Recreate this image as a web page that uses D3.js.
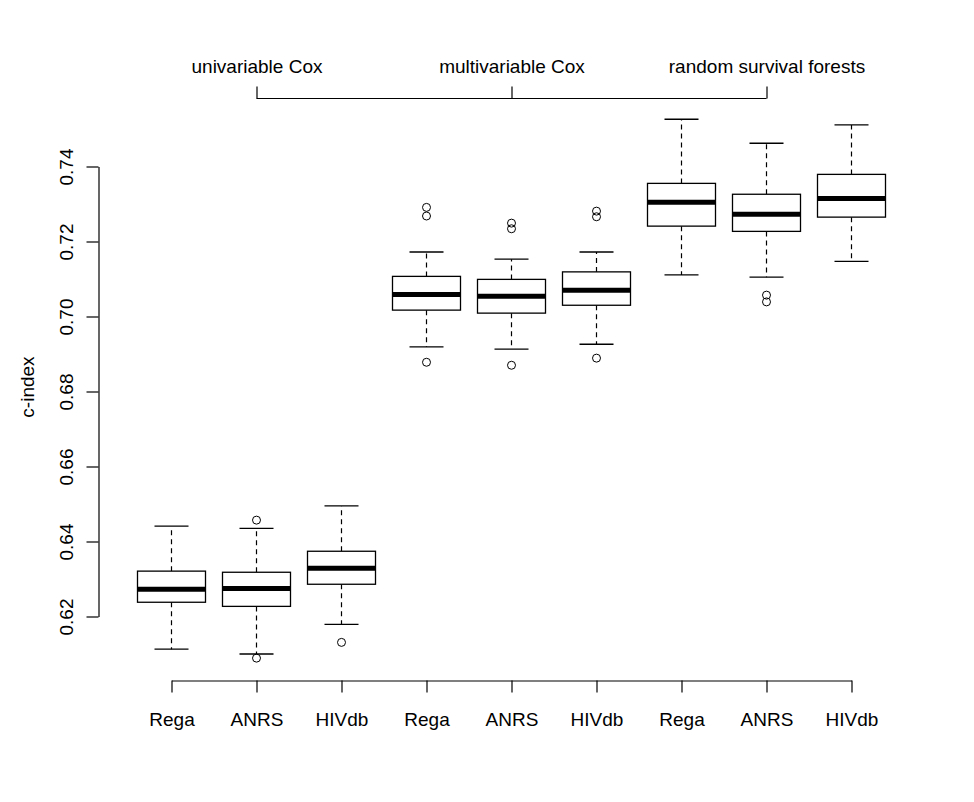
<!DOCTYPE html>
<html>
<head>
<meta charset="utf-8">
<script src="https://cdn.jsdelivr.net/npm/d3@7"></script>
<style>
body { margin: 0; background: #fff; }
text { font-family: "Liberation Sans", Arial, sans-serif; }
</style>
</head>
<body>
<div id="chart"></div>
<script>
// box statistics
var groups = ["Rega","ANRS","HIVdb","Rega","ANRS","HIVdb","Rega","ANRS","HIVdb"];
var methods = ["univariable Cox","multivariable Cox","random survival forests"];
var yTicks = [0.62, 0.64, 0.66, 0.68, 0.70, 0.72, 0.74];

var whiskerLow  = [0.6113, 0.6100, 0.6179, 0.6919, 0.6913, 0.6926, 0.7111, 0.7105, 0.7147];
var q1          = [0.6238, 0.6227, 0.6286, 0.7017, 0.7009, 0.7030, 0.7241, 0.7227, 0.7265];
var median      = [0.6273, 0.6275, 0.6329, 0.7059, 0.7054, 0.7070, 0.7305, 0.7273, 0.7315];
var q3          = [0.6321, 0.6318, 0.6374, 0.7107, 0.7099, 0.7119, 0.7355, 0.7326, 0.7379];
var whiskerHigh = [0.6441, 0.6435, 0.6495, 0.7172, 0.7153, 0.7172, 0.7526, 0.7462, 0.7511];
var outliers = [
	[],
	[0.6457, 0.6089],
	[0.6131],
	[0.7291, 0.7268, 0.6878],
	[0.7249, 0.7234, 0.6870],
	[0.7281, 0.7266, 0.6889],
	[],
	[0.7057, 0.7039],
	[]
];

var width = 974, height = 802;
var fontSize = "19px";

var svg = d3.select("#chart").append("svg")
	.attr("width", width)
	.attr("height", height)
	.style("background", "#fff");

var x = d3.scaleLinear().domain([1, 9]).range([171.5, 851.5]);
var y = d3.scaleLinear().domain([0.62, 0.74]).range([616.5, 166.5]);
var boxW = 68, capW = 34;

var boxes = groups.map((g, i) => ({
	i: i + 1, name: g,
	lo: whiskerLow[i], q1: q1[i], med: median[i], q3: q3[i], hi: whiskerHigh[i],
	out: outliers[i]
}));

var plot = svg.append("g");
var box = plot.selectAll("g.box")
	.data(boxes)
	.enter()
	.append("g")
		.attr("class", "box")
		.attr("transform", d => "translate(" + x(d.i) + ",0)");

// dashed whiskers
box.append("line")
	.attr("y1", d => y(d.q3)).attr("y2", d => y(d.hi))
	.attr("stroke", "#000").attr("stroke-width", 1.2).attr("stroke-dasharray", "5,4");
box.append("line")
	.attr("y1", d => y(d.q1)).attr("y2", d => y(d.lo))
	.attr("stroke", "#000").attr("stroke-width", 1.2).attr("stroke-dasharray", "5,4");
// staples
box.append("line")
	.attr("x1", -capW / 2).attr("x2", capW / 2)
	.attr("y1", d => y(d.hi)).attr("y2", d => y(d.hi))
	.attr("stroke", "#000").attr("stroke-width", 1.3);
box.append("line")
	.attr("x1", -capW / 2).attr("x2", capW / 2)
	.attr("y1", d => y(d.lo)).attr("y2", d => y(d.lo))
	.attr("stroke", "#000").attr("stroke-width", 1.3);
// box
box.append("rect")
	.attr("x", -boxW / 2).attr("width", boxW)
	.attr("y", d => y(d.q3))
	.attr("height", d => y(d.q1) - y(d.q3))
	.attr("fill", "#fff").attr("stroke", "#000").attr("stroke-width", 1.3);
// median
box.append("line")
	.attr("x1", -boxW / 2).attr("x2", boxW / 2)
	.attr("y1", d => y(d.med)).attr("y2", d => y(d.med))
	.attr("stroke", "#000").attr("stroke-width", 5);
// outliers
box.selectAll("circle")
	.data(d => d.out)
	.enter()
	.append("circle")
		.attr("cy", v => y(v))
		.attr("r", 4)
		.attr("fill", "none").attr("stroke", "#000").attr("stroke-width", 1);

// left axis
var yAxis = svg.append("g")
	.attr("transform", "translate(98.5,0)")
	.call(d3.axisLeft(y).tickValues(yTicks).tickFormat(d3.format(".2f")).tickSize(12).tickSizeOuter(0));
yAxis.selectAll("text")
	.attr("transform", "rotate(-90)")
	.attr("x", 0).attr("y", -26).attr("dy", 0)
	.attr("text-anchor", "middle");

// bottom axis
var xAxis = svg.append("g")
	.attr("transform", "translate(0,680.5)")
	.call(d3.axisBottom(x).tickValues(d3.range(1, 10)).tickFormat(d => groups[d - 1]).tickSize(12).tickSizeOuter(0));
xAxis.selectAll("text").attr("y", 45.5).attr("dy", 0);

// top axis with method names
var topAxis = svg.append("g")
	.attr("transform", "translate(0,98.5)")
	.call(d3.axisTop(x).tickValues([2, 5, 8]).tickFormat(d => methods[(d - 2) / 3]).tickSize(12).tickSizeOuter(0));
topAxis.select(".domain").attr("d", "M" + x(2) + ",0H" + x(8));
topAxis.selectAll("text").attr("y", -25.5).attr("dy", 0);

svg.selectAll(".tick text, .domain, .tick line").attr("stroke-width", 1.2);
svg.selectAll(".tick text")
	.attr("fill", "#000")
	.style("font-size", fontSize)
	.style("font-family", "'Liberation Sans', Arial, sans-serif");
svg.selectAll(".domain, .tick line").attr("stroke", "#000");

// y label
svg.append("text")
	.attr("transform", "translate(33.5,387) rotate(-90)")
	.attr("text-anchor", "middle")
	.style("font-size", fontSize)
	.text("c-index");
</script>
</body>
</html>
